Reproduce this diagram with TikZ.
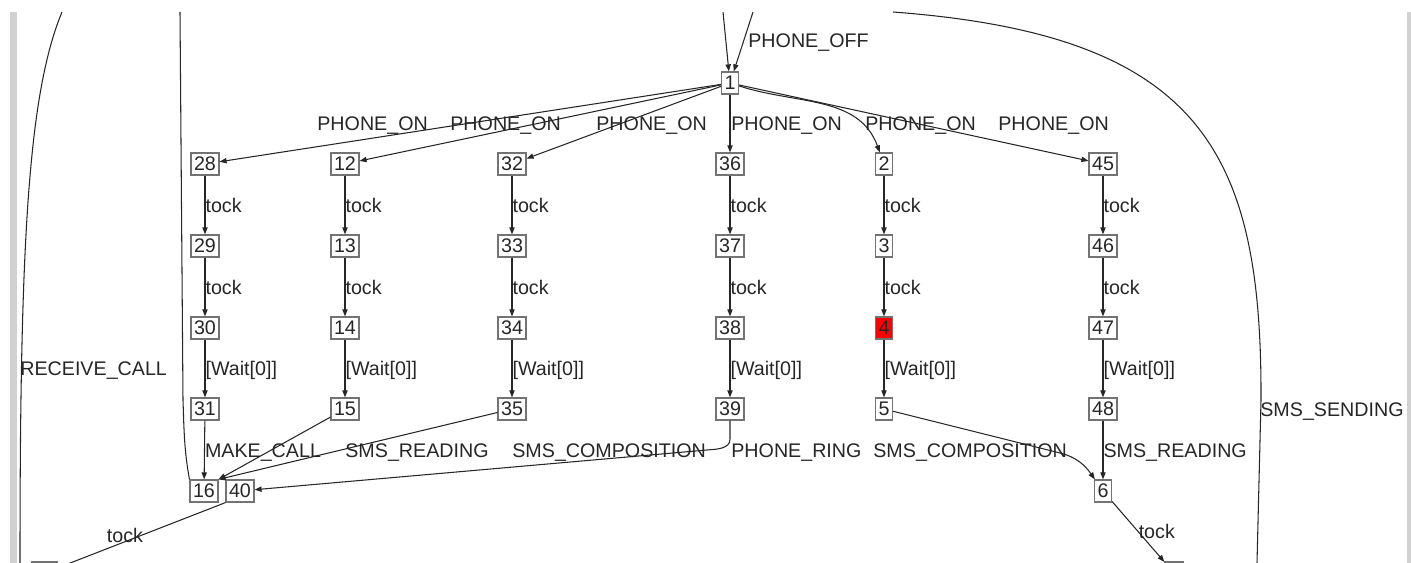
\documentclass[tikz,border=0pt]{standalone}
\usepackage{fontspec}
\setmainfont{Liberation Sans}
\usetikzlibrary{arrows.meta}

\begin{document}
\begin{tikzpicture}[
    state/.style={draw=black!55, line width=0.7pt, inner xsep=1.7pt, inner ysep=0pt,
      minimum height=0.44cm, text=black!85, font=\fontsize{11.2}{13}\selectfont},
    lbl/.style={inner sep=0pt, text height=8pt, text depth=0pt, text=black!85,
      font=\fontsize{11.2}{13}\selectfont},
    tr/.style={draw=black!85, line width=0.6pt, -{Triangle[length=4pt,width=3pt]}},
    ln/.style={draw=black!85, line width=0.6pt}]
  \useasboundingbox (0,0) rectangle (28.22,-11.26);
  \clip (0,0) rectangle (28.22,-11.26);
  \fill[black!18] (0.20,-0.24) rectangle (0.34,-11.26);
  \fill[black!18] (28.14,-0.24) rectangle (28.22,-11.26);

  \node[state] (n1) at (14.60,-1.66) {1};

  \node[state] (n28) at (4.10,-3.28) {28};
  \node[state] (n12) at (6.90,-3.28) {12};
  \node[state] (n32) at (10.24,-3.28) {32};
  \node[state] (n36) at (14.60,-3.28) {36};
  \node[state] (n2) at (17.68,-3.28) {2};
  \node[state] (n45) at (22.06,-3.28) {45};

  \node[state] (n29) at (4.10,-4.92) {29};
  \node[state] (n13) at (6.90,-4.92) {13};
  \node[state] (n33) at (10.24,-4.92) {33};
  \node[state] (n37) at (14.60,-4.92) {37};
  \node[state] (n3) at (17.68,-4.92) {3};
  \node[state] (n46) at (22.06,-4.92) {46};

  \node[state] (n30) at (4.10,-6.56) {30};
  \node[state] (n14) at (6.90,-6.56) {14};
  \node[state] (n34) at (10.24,-6.56) {34};
  \node[state] (n38) at (14.60,-6.56) {38};
  \node[state, fill=red] (n4) at (17.68,-6.56) {4};
  \node[state] (n47) at (22.06,-6.56) {47};

  \node[state] (n31) at (4.10,-8.18) {31};
  \node[state] (n15) at (6.90,-8.18) {15};
  \node[state] (n35) at (10.24,-8.18) {35};
  \node[state] (n39) at (14.60,-8.18) {39};
  \node[state] (n5) at (17.68,-8.18) {5};
  \node[state] (n48) at (22.06,-8.18) {48};

  \node[state] (n16) at (4.08,-9.82) {16};
  \node[state] (n40) at (4.80,-9.82) {40};
  \node[state] (n6) at (22.06,-9.82) {6};

  \node[state, minimum width=0.50cm] (nbl) at (0.89,-11.46) {};
  \node[state, minimum width=0.36cm] (nbr) at (23.48,-11.46) {};

  \coordinate (offa) at (14.46,-0.24);
  \coordinate (offb) at (15.06,-0.24);
  \coordinate (rcbot) at (0.40,-11.26);
  \coordinate (rctop) at (1.24,-0.24);
  \coordinate (uptop) at (3.60,-0.24);
  \coordinate (smstop) at (17.86,-0.24);
  \coordinate (smsbot) at (25.14,-11.26);

  \draw[tr] (offa) -- (n1);
  \draw[tr] (offb) -- (n1);
  \node[lbl, anchor=west] (loff) at (14.96,-0.80) {PHONE\_OFF};

  \draw[tr] (n1) -- (n28);
  \draw[tr] (n1) -- (n12);
  \draw[tr] (n1) -- (n32);
  \draw[tr] (n1) -- (n36);
  \draw[tr] (n1) to[out=-18,in=110] (n2);
  \draw[tr] (n1) -- (n45);
  \node[lbl, anchor=west] (lon1) at (6.34,-2.46) {PHONE\_ON};
  \node[lbl, anchor=west] (lon2) at (9.00,-2.46) {PHONE\_ON};
  \node[lbl, anchor=west] (lon3) at (11.92,-2.46) {PHONE\_ON};
  \node[lbl, anchor=west] (lon4) at (14.62,-2.46) {PHONE\_ON};
  \node[lbl, anchor=west] (lon5) at (17.30,-2.46) {PHONE\_ON};
  \node[lbl, anchor=west] (lon6) at (19.96,-2.46) {PHONE\_ON};

  \draw[tr] (n28) -- node[lbl, right] {tock} (n29);
  \draw[tr] (n29) -- node[lbl, right] {tock} (n30);
  \draw[tr] (n30) -- node[lbl, right] {[Wait[0]]} (n31);
  \draw[tr] (n31) -- node[lbl, right] {MAKE\_CALL} (n16);

  \draw[tr] (n12) -- node[lbl, right] {tock} (n13);
  \draw[tr] (n13) -- node[lbl, right] {tock} (n14);
  \draw[tr] (n14) -- node[lbl, right] {[Wait[0]]} (n15);
  \draw[tr] (n15) -- (n16.north east);

  \draw[tr] (n32) -- node[lbl, right] {tock} (n33);
  \draw[tr] (n33) -- node[lbl, right] {tock} (n34);
  \draw[tr] (n34) -- node[lbl, right] {[Wait[0]]} (n35);
  \draw[tr] (n35) -- (n16.north east);

  \draw[tr] (n36) -- node[lbl, right] {tock} (n37);
  \draw[tr] (n37) -- node[lbl, right] {tock} (n38);
  \draw[tr] (n38) -- node[lbl, right] {[Wait[0]]} (n39);
  \draw[tr] (n39) -- (14.60,-8.78) to[out=-90,in=5] (14.14,-9.00) -- (n40);

  \draw[tr] (n2) -- node[lbl, right] {tock} (n3);
  \draw[tr] (n3) -- node[lbl, right] {tock} (n4);
  \draw[tr] (n4) -- node[lbl, right] {[Wait[0]]} (n5);
  \draw[tr] (n5) -- (21.20,-9.06) to[out=-14,in=125] (n6);

  \draw[tr] (n45) -- node[lbl, right] {tock} (n46);
  \draw[tr] (n46) -- node[lbl, right] {tock} (n47);
  \draw[tr] (n47) -- node[lbl, right] {[Wait[0]]} (n48);
  \draw[tr] (n48) -- node[lbl, right] {SMS\_READING} (n6);

  \node[lbl, anchor=west] (lrd) at (6.90,-9.00) {SMS\_READING};
  \node[lbl, anchor=west] (lcp1) at (10.24,-9.00) {SMS\_COMPOSITION};
  \node[lbl, anchor=west] (lring) at (14.62,-9.00) {PHONE\_RING};
  \node[lbl, anchor=west] (lcp2) at (17.46,-9.00) {SMS\_COMPOSITION};

  \draw[tr] (n40.south west) -- node[lbl, left, xshift=0.04cm] {tock} (nbl);
  \draw[tr] (n6) -- node[lbl, right] {tock} (nbr);

  \draw[ln] (rcbot) .. controls (0.40,-5.0) and (0.55,-1.9) .. (rctop);
  \node[lbl, anchor=west] (lrc) at (0.40,-7.36) {RECEIVE\_CALL};
  \draw[ln] (n16.north west) to[out=100,in=-88] (3.66,-8.00) -- (uptop);
  \draw[ln] (smstop) .. controls (24.00,-0.70) and (25.24,-3.00) .. (25.22,-8.00) -- (smsbot);
  \node[lbl, anchor=west] (lsnd) at (25.20,-8.18) {SMS\_SENDING};
\end{tikzpicture}
\end{document}
